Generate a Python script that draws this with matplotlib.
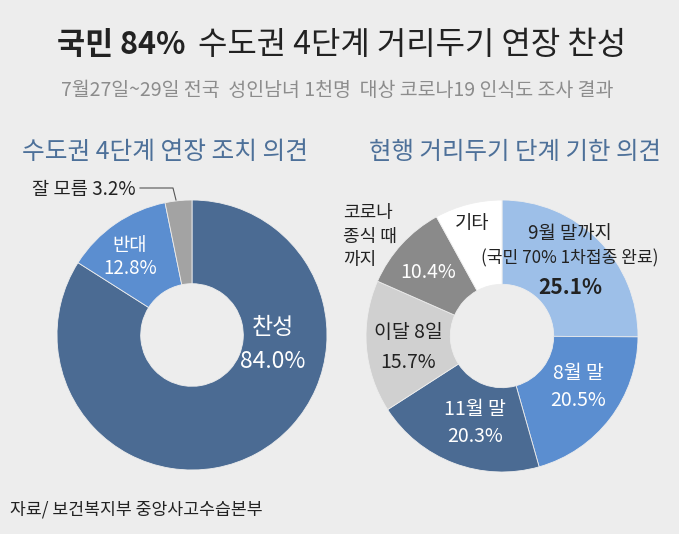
import matplotlib
matplotlib.use("Agg")
import matplotlib.pyplot as plt

plt.rcParams['font.family'] = ['Noto Sans CJK KR', 'DejaVu Sans']

# ---- data ----
left_labels = ['찬성', '반대', '잘 모름']
left_values = [84.0, 12.8, 3.2]
right_labels = ['9월 말까지', '8월 말', '11월 말', '이달 8일', '코로나 종식 때까지', '기타']
right_values = [25.1, 20.5, 20.3, 15.7, 10.4, 8.0]

title_bold = '국민 84%'
title_rest = '수도권 4단계 거리두기 연장 찬성'
subtitle = '7월27일~29일 전국  성인남녀 1천명  대상 코로나19 인식도 조사 결과'
left_title = '수도권 4단계 연장 조치 의견'
right_title = '현행 거리두기 단계 기한 의견'
source = '자료/ 보건복지부 중앙사고수습본부'

BG = '#ededed'
left_colors = ['#4b6b93', '#5b8ed0', '#a3a3a3']
right_colors = ['#9dbfe8', '#5b8ed0', '#4b6b93', '#d0d0d0', '#8a8a8a', '#ffffff']

W, H = 679, 534
fig = plt.figure(figsize=(W / 100, H / 100), dpi=100, facecolor=BG)


def px_axes(cx, cy, r):
    return fig.add_axes([(cx - r) / W, (H - cy - r) / H, 2 * r / W, 2 * r / H])


def fx(x):
    return x / W


def fy(y):
    return 1 - y / H


# titles
t1 = fig.text(fx(57), fy(45), title_bold, fontsize=22, fontweight='bold', color='#222222', va='center', ha='left')
fig.canvas.draw()
bb = t1.get_window_extent()
fig.text((bb.x1 + 12) / W, fy(45), title_rest, fontsize=23, color='#222222', va='center', ha='left')
fig.text(fx(337), fy(90), subtitle, fontsize=14, color='#8c8c8c', va='center', ha='center')
fig.text(fx(165), fy(152), left_title, fontsize=17.8, color='#4d7099', va='center', ha='center')
fig.text(fx(515), fy(152), right_title, fontsize=17.6, color='#4d7099', va='center', ha='center')
fig.text(fx(10), fy(510), source, fontsize=12.4, color='#222222', va='center', ha='left')

wp = dict(width=0.62, edgecolor=BG, linewidth=0.6)

# left donut
axl = px_axes(192, 335, 135)
axl.pie(left_values, colors=left_colors, startangle=90, counterclock=False,
        wedgeprops=wp, radius=1)
axl.set_xlim(-1, 1); axl.set_ylim(-1, 1); axl.set_aspect('auto'); axl.axis('off')


def ltxt(ax, cx, cy, r, x, y, s, **kw):
    ax.text((x - cx) / r, (cy - y) / r, s, ha=kw.pop('ha', 'center'), va='center', **kw)


ltxt(axl, 192, 335, 135, 273, 327, left_labels[0], fontsize=16.5, color='white')
ltxt(axl, 192, 335, 135, 273, 361, f'{left_values[0]:.1f}%', fontsize=16.5, color='white')
ltxt(axl, 192, 335, 135, 130, 245, left_labels[1], fontsize=13.5, color='white')
ltxt(axl, 192, 335, 135, 130, 268, f'{left_values[1]:.1f}%', fontsize=13.5, color='white')

# label for small slice with leader
fig.text(fx(136), fy(189), f'{left_labels[2]} {left_values[2]:.1f}%', fontsize=13.5,
         color='#222222', va='center', ha='right')
fig.add_artist(plt.Line2D([fx(140), fx(173), fx(176)], [fy(188), fy(188), fy(200)],
                          color='#555555', lw=0.8))

# right donut
axr = px_axes(502, 336, 136)
axr.pie(right_values, colors=right_colors, startangle=90, counterclock=False,
        wedgeprops=wp, radius=1)
axr.set_xlim(-1, 1); axr.set_ylim(-1, 1); axr.set_aspect('auto'); axr.axis('off')

R = (axr, 502, 336, 136)
dark = '#222222'
ltxt(*R, 570, 233, right_labels[0], fontsize=13.5, color=dark)
ltxt(*R, 570, 258, '(국민 70% 1차접종 완료)', fontsize=12.3, color=dark)
ltxt(*R, 570, 288, f'{right_values[0]:.1f}%', fontsize=15, color=dark, fontweight='bold')
ltxt(*R, 578, 373, right_labels[1], fontsize=14, color='white')
ltxt(*R, 578, 400, f'{right_values[1]:.1f}%', fontsize=14, color='white')
ltxt(*R, 475, 410, right_labels[2], fontsize=14, color='white')
ltxt(*R, 475, 437, f'{right_values[2]:.1f}%', fontsize=14, color='white')
ltxt(*R, 408, 333, right_labels[3], fontsize=14, color=dark)
ltxt(*R, 408, 362, f'{right_values[3]:.1f}%', fontsize=14, color=dark)
ltxt(*R, 428, 273, f'{right_values[4]:.1f}%', fontsize=14, color='white')
ltxt(*R, 472, 223, right_labels[5], fontsize=13.5, color=dark)

for i, line in enumerate(['코로나', '종식 때', '까지']):
    fig.text(fx(343), fy(213 + i * 23.5), line, fontsize=13, color=dark, va='center', ha='left')

fig.savefig('out.png', dpi=100, facecolor=BG)
